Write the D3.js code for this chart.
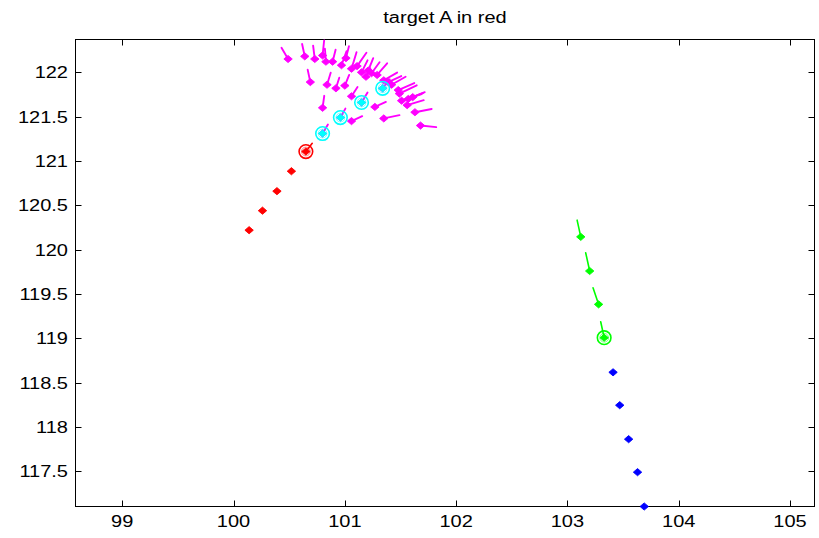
<!DOCTYPE html>
<html>
<head>
<meta charset="utf-8">
<script src="https://cdn.jsdelivr.net/npm/d3@7"></script>
<style>
  body { margin: 0; background: #fff; }
  svg { display: block; }
  text { font-family: "Liberation Sans", Arial, sans-serif; fill: #000; }
</style>
</head>
<body>
<svg id="chart" width="819" height="538"></svg>
<script>
// ---- data ---------------------------------------------------------------
const chartTitle = "target A in red";
const xTicks = [99, 100, 101, 102, 103, 104, 105];
const yTicks = [117.5, 118, 118.5, 119, 119.5, 120, 120.5, 121, 121.5, 122];
const xDomain = [98.58, 105.22];
const yDomain = [117.105, 122.37];

// target A track (red); the last point is the current position
const redX = [100.14, 100.26, 100.39, 100.52, 100.65];
const redY = [120.22, 120.44, 120.66, 120.885, 121.107];
const redU = [0.057];   // velocity of the current point
const redV = [0.093];

// predicted positions (cyan rings)
const cyanX = [100.80, 100.96, 101.15, 101.34];
const cyanY = [121.31, 121.49, 121.66, 121.82];

// clutter detections with velocity vectors (magenta)
const clutterX = [100.49, 100.64, 100.73, 100.80, 100.83, 100.89, 100.97, 101.01, 101.06, 101.11,
                  101.21, 101.29, 100.69, 100.84, 100.92, 101.00, 101.06, 101.19, 101.35, 101.39,
                  101.49, 101.51, 101.57, 101.56, 101.63, 100.80, 101.06, 101.27, 101.35, 101.68,
                  101.61, 100.80, 100.96, 101.15, 101.34, 101.15, 101.24, 101.42, 101.48];
const clutterY = [122.15, 122.18, 122.15, 122.19, 122.12, 122.12, 122.08, 122.16, 122.04, 122.07,
                  122.02, 121.97, 121.89, 121.86, 121.82, 121.85, 121.73, 121.95, 121.91, 121.89,
                  121.76, 121.68, 121.70, 121.63, 121.55, 121.60, 121.45, 121.61, 121.48, 121.40,
                  121.72, 121.31, 121.49, 121.66, 121.82, 122.00, 121.99, 121.86, 121.80];
const clutterU = [-0.059, -0.024, -0.015, 0.014, -0.009, 0.027, 0.045, 0.027, 0.045, 0.084,
                  0.045, 0.090, -0.024, 0.033, 0.030, 0.039, 0.054, 0.039, 0.120, 0.117,
                  0.156, 0.180, 0.135, 0.149, 0.150, 0.015, 0.096, 0.099, 0.141, 0.141,
                  0.108, 0.048, 0.045, 0.054, 0.063, 0.054, 0.072, 0.126, 0.144];
const clutterV = [0.127, 0.140, 0.150, 0.169, 0.146, 0.135, 0.158, 0.135, 0.187, 0.151,
                  0.139, 0.132, 0.140, 0.135, 0.119, 0.120, 0.105, 0.095, 0.087, 0.068,
                  0.093, 0.075, 0.068, 0.056, 0.037, 0.135, 0.056, 0.056, 0.037, -0.018,
                  0.056, 0.101, 0.101, 0.113, 0.101, 0.135, 0.124, 0.090, 0.079];

// second target (green, with velocity); the last point is the current position
const greenX = [103.12, 103.20, 103.28, 103.33];
const greenY = [120.145, 119.76, 119.384, 119.008];
const greenU = [-0.033, -0.036, -0.050, -0.031];
const greenV = [0.188, 0.206, 0.187, 0.180];

// second target predicted positions (blue)
const blueX = [103.41, 103.47, 103.55, 103.63, 103.69];
const blueY = [118.618, 118.247, 117.864, 117.492, 117.105];

// ---- layout -------------------------------------------------------------
const svg = d3.select("#chart");
const plotLeft = 75.5, plotRight = 814.5, plotTop = 39.5, plotBottom = 506.5;
const tickLen = 6;
const textStretch = 1.25;

const x = d3.scaleLinear().domain(xDomain).range([plotLeft, plotRight]);
const y = d3.scaleLinear().domain(yDomain).range([plotBottom, plotTop]);

const COLORS = { red: "#ff0000", cyan: "#00ffff", magenta: "#ff00ff", green: "#00ff00", blue: "#0000ff" };

function stretchedText(g, px, py, str, anchor, size) {
  return g.append("text")
    .attr("transform", `translate(${px},${py}) scale(${textStretch},1)`)
    .attr("text-anchor", anchor)
    .attr("font-size", size)
    .text(str);
}

// title
stretchedText(svg, (plotLeft + plotRight) / 2, 23, chartTitle, "middle", 16);

// axes box and inward ticks on all four sides
const axes = svg.append("g").attr("stroke", "#000").attr("stroke-width", 1).attr("fill", "none");
axes.append("rect").attr("x", plotLeft).attr("y", plotTop)
  .attr("width", plotRight - plotLeft).attr("height", plotBottom - plotTop);

xTicks.forEach(t => {
  const px = Math.round(x(t)) + 0.5;
  axes.append("line").attr("x1", px).attr("x2", px).attr("y1", plotBottom).attr("y2", plotBottom - tickLen);
  axes.append("line").attr("x1", px).attr("x2", px).attr("y1", plotTop).attr("y2", plotTop + tickLen);
});
yTicks.forEach(t => {
  const py = Math.round(y(t)) + 0.5;
  axes.append("line").attr("x1", plotLeft).attr("x2", plotLeft + tickLen).attr("y1", py).attr("y2", py);
  axes.append("line").attr("x1", plotRight).attr("x2", plotRight - tickLen).attr("y1", py).attr("y2", py);
});

const labels = svg.append("g");
xTicks.forEach(t => stretchedText(labels, x(t), 527, String(t), "middle", 16));
yTicks.forEach(t => stretchedText(labels, 68, y(t) + 6, String(t), "end", 16));

// ---- marks ----------------------------------------------------------------
const marks = svg.append("g");

function diamondPath(px, py) {
  const w = 4.2, h = 3.6;
  return `M${px - w},${py}L${px},${py - h}L${px + w},${py}L${px},${py + h}Z`;
}

function drawPoints(xs, ys, color) {
  marks.append("g").selectAll("path")
    .data(d3.range(xs.length))
    .join("path")
    .attr("d", i => diamondPath(x(xs[i]), y(ys[i])))
    .attr("fill", color)
    .attr("stroke", color)
    .attr("stroke-width", 0.9);
}

function drawVectors(xs, ys, us, vs, color, offset = 0, width = 1.6) {
  marks.append("g").selectAll("line")
    .data(d3.range(us.length))
    .join("line")
    .attr("x1", i => x(xs[i + offset]))
    .attr("y1", i => y(ys[i + offset]))
    .attr("x2", i => x(xs[i + offset] + us[i]))
    .attr("y2", i => y(ys[i + offset] + vs[i]))
    .attr("stroke", color)
    .attr("stroke-width", width)
    .attr("stroke-linecap", "round");
}

function drawRing(px, py, color) {
  const g = marks.append("g").attr("fill", "none").attr("stroke", color);
  g.append("circle").attr("cx", px).attr("cy", py).attr("r", 6.8).attr("stroke-width", 1.6);
  g.append("circle").attr("cx", px).attr("cy", py).attr("r", 4.4).attr("stroke-width", 0.9).attr("stroke-opacity", 0.55);
}

// clutter
drawVectors(clutterX, clutterY, clutterU, clutterV, COLORS.magenta, 0, 1.9);
drawPoints(clutterX, clutterY, COLORS.magenta);

// predicted positions of target A
cyanX.forEach((v, i) => drawRing(x(v), y(cyanY[i]), COLORS.cyan));
drawPoints(cyanX, cyanY, COLORS.cyan);

// target A
const redLast = redX.length - 1;
drawVectors(redX, redY, redU, redV, COLORS.red, redLast);
drawPoints(redX, redY, COLORS.red);
drawRing(x(redX[redLast]), y(redY[redLast]), COLORS.red);

// second target
drawVectors(greenX, greenY, greenU, greenV, COLORS.green);
drawPoints(greenX, greenY, COLORS.green);
const greenLast = greenX.length - 1;
drawRing(x(greenX[greenLast]), y(greenY[greenLast]), COLORS.green);
drawPoints(blueX, blueY, COLORS.blue);
</script>
</body>
</html>
